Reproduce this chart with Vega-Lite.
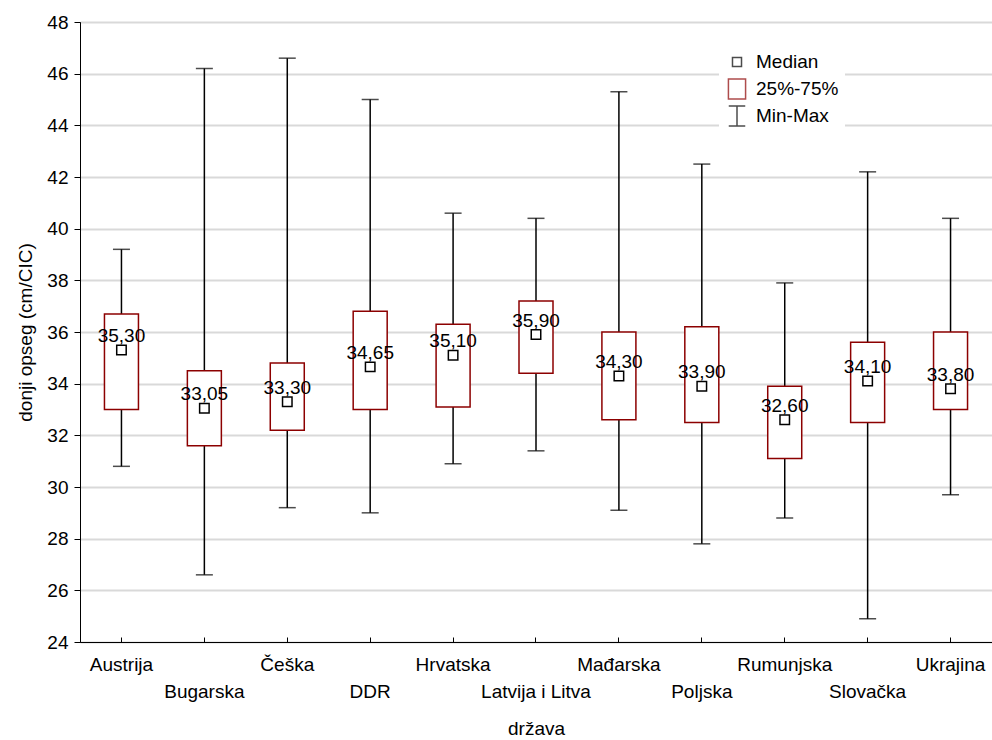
{
  "$schema": "https://vega.github.io/schema/vega-lite/v6.json",
  "width": 912,
  "height": 620,
  "autosize": {"type": "none"},
  "padding": {"left": 80, "top": 22, "right": 0, "bottom": 98},
  "background": "white",
  "config": {
    "font": "Liberation Sans",
    "view": {"stroke": "black", "strokeWidth": 1},
    "axis": {"labelFont": "Liberation Sans", "titleFont": "Liberation Sans", "labelFontSize": 19, "titleFontSize": 19, "titleFontWeight": "normal", "labelColor": "black", "titleColor": "black", "domainColor": "black", "tickColor": "black"}
  },
  "datasets": {
    "boxes": [
      {"drzava": "Austrija", "min": 30.8, "q1": 33.0, "median": 35.3, "q3": 36.7, "max": 39.2, "label": "35,30"},
      {"drzava": "Bugarska", "min": 26.6, "q1": 31.6, "median": 33.05, "q3": 34.5, "max": 46.2, "label": "33,05"},
      {"drzava": "Češka", "min": 29.2, "q1": 32.2, "median": 33.3, "q3": 34.8, "max": 46.6, "label": "33,30"},
      {"drzava": "DDR", "min": 29.0, "q1": 33.0, "median": 34.65, "q3": 36.8, "max": 45.0, "label": "34,65"},
      {"drzava": "Hrvatska", "min": 30.9, "q1": 33.1, "median": 35.1, "q3": 36.3, "max": 40.6, "label": "35,10"},
      {"drzava": "Latvija i Litva", "min": 31.4, "q1": 34.4, "median": 35.9, "q3": 37.2, "max": 40.4, "label": "35,90"},
      {"drzava": "Mađarska", "min": 29.1, "q1": 32.6, "median": 34.3, "q3": 36.0, "max": 45.3, "label": "34,30"},
      {"drzava": "Poljska", "min": 27.8, "q1": 32.5, "median": 33.9, "q3": 36.2, "max": 42.5, "label": "33,90"},
      {"drzava": "Rumunjska", "min": 28.8, "q1": 31.1, "median": 32.6, "q3": 33.9, "max": 37.9, "label": "32,60"},
      {"drzava": "Slovačka", "min": 24.9, "q1": 32.5, "median": 34.1, "q3": 35.6, "max": 42.2, "label": "34,10"},
      {"drzava": "Ukrajina", "min": 29.7, "q1": 33.0, "median": 33.8, "q3": 36.0, "max": 40.4, "label": "33,80"}
    ],
    "legend": [
      {"item": "Median"},
      {"item": "25%-75%"},
      {"item": "Min-Max"}
    ]
  },
  "data": {"name": "boxes"},
  "encoding": {
    "x": {
      "field": "drzava",
      "type": "nominal",
      "sort": ["Austrija", "Bugarska", "Češka", "DDR", "Hrvatska", "Latvija i Litva", "Mađarska", "Poljska", "Rumunjska", "Slovačka", "Ukrajina"],
      "scale": {"paddingInner": 0, "paddingOuter": 0},
      "title": "država",
      "axis": {
        "labelAngle": 0,
        "labelOverlap": false,
        "labelBound": false,
        "labelExpr": "indexof(['Bugarska','DDR','Latvija i Litva','Poljska','Slovačka'], datum.value) >= 0 ? ['', datum.label] : datum.label",
        "labelLineHeight": 27,
        "labelPadding": 18,
        "tickSize": -5,
        "tickWidth": 1,
        "titlePadding": 18,
        "grid": false
      }
    }
  },
  "layer": [
    {
      "mark": {"type": "rule", "color": "black", "strokeWidth": 1.5},
      "encoding": {
        "y": {
          "field": "min",
          "type": "quantitative",
          "scale": {"domain": [24, 48], "nice": false, "zero": false},
          "title": "donji opseg (cm/CIC)",
          "axis": {"values": [24, 26, 28, 30, 32, 34, 36, 38, 40, 42, 44, 46, 48], "tickSize": 6, "labelPadding": 6, "titlePadding": 11, "gridColor": "#d9d9d9", "gridWidth": 2}
        },
        "y2": {"field": "max"}
      }
    },
    {
      "mark": {"type": "bar", "fill": "white", "stroke": "#8c0000", "strokeWidth": 1.5, "size": 34},
      "encoding": {
        "y": {"field": "q1", "type": "quantitative"},
        "y2": {"field": "q3"}
      }
    },
    {
      "mark": {"type": "tick", "color": "black", "size": 17, "thickness": 1.5, "orient": "horizontal"},
      "encoding": {"y": {"field": "min", "type": "quantitative"}}
    },
    {
      "mark": {"type": "tick", "color": "black", "size": 17, "thickness": 1.5, "orient": "horizontal"},
      "encoding": {"y": {"field": "max", "type": "quantitative"}}
    },
    {
      "mark": {"type": "point", "shape": "square", "size": 90, "filled": false, "fill": "white", "fillOpacity": 1, "stroke": "black", "strokeWidth": 1.5, "opacity": 1},
      "encoding": {"y": {"field": "median", "type": "quantitative"}}
    },
    {
      "mark": {"type": "text", "font": "Liberation Sans", "fontSize": 19, "color": "black", "baseline": "alphabetic", "dy": -8},
      "encoding": {"y": {"field": "median", "type": "quantitative"}, "text": {"field": "label"}}
    },
    {
      "data": {"name": "legend"},
      "mark": {"type": "point", "clip": true, "filled": false, "strokeWidth": 1.5, "size": 484},
      "encoding": {
        "x": {"datum": "Austrija"},
        "y": {"datum": 10},
        "shape": {
          "field": "item",
          "type": "nominal",
          "scale": {"domain": ["Median", "25%-75%", "Min-Max"], "range": ["M-0.41,-0.41H0.41V0.41H-0.41Z", "M-0.78,-0.92H0.78V0.92H-0.78Z", "M-0.75,-0.9H0.75M0,-0.9V0.9M-0.75,0.9H0.75"]},
          "legend": {"title": null, "orient": "none", "legendX": 639, "legendY": 23, "fillColor": "white", "padding": 6, "labelFontSize": 19, "labelFont": "Liberation Sans", "labelColor": "black", "symbolSize": 484, "rowPadding": 5, "labelOffset": 7, "symbolStrokeWidth": 1.5, "clipHeight": 22}
        },
        "stroke": {
          "field": "item",
          "type": "nominal",
          "scale": {"domain": ["Median", "25%-75%", "Min-Max"], "range": ["black", "#8c0000", "black"]},
          "legend": {"title": null, "orient": "none", "legendX": 639, "legendY": 23, "fillColor": "white", "padding": 6, "labelFontSize": 19, "labelFont": "Liberation Sans", "labelColor": "black", "symbolSize": 484, "rowPadding": 5, "labelOffset": 7, "symbolStrokeWidth": 1.5, "clipHeight": 22}
        }
      }
    }
  ]
}
